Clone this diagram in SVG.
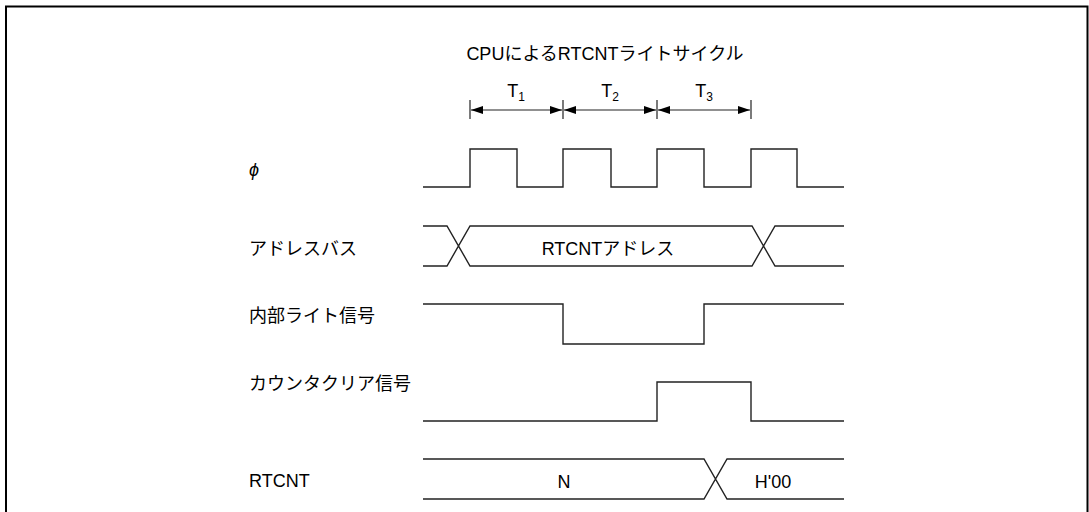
<svg xmlns="http://www.w3.org/2000/svg" width="1089" height="512" viewBox="0 0 1089 512">
<style>
text{font-family:"Liberation Sans","Noto Sans CJK JP",sans-serif;font-size:18px;fill:#000}
.c{text-anchor:middle}
.w{fill:none;stroke:#222;stroke-width:1.4}
.sub{font-size:12px}
</style>
<defs>
<marker id="ah" viewBox="0 0 12 8" refX="12" refY="4" markerWidth="12" markerHeight="8" markerUnits="userSpaceOnUse" orient="auto-start-reverse">
<path d="M0,0 L12,4 L0,8 Z" fill="#000"/>
</marker>
</defs>
<rect x="6" y="6.5" width="1081.5" height="520" fill="#fff" stroke="#000" stroke-width="2"/>
<g id="title"><text class="c" x="605" y="60">CPUによるRTCNTライトサイクル</text></g>
<g id="tlabels">
<text class="c" x="516" y="97">T<tspan class="sub" dy="4">1</tspan></text>
<text class="c" x="610" y="97">T<tspan class="sub" dy="4">2</tspan></text>
<text class="c" x="704" y="97">T<tspan class="sub" dy="4">3</tspan></text>
</g>
<g id="connectors">
<g stroke="#222" stroke-width="1.2">
<line x1="470" y1="100" x2="470" y2="119"/>
<line x1="563" y1="100" x2="563" y2="119"/>
<line x1="657" y1="100" x2="657" y2="119"/>
<line x1="751" y1="100" x2="751" y2="119"/>
<line x1="471" y1="110" x2="562" y2="110" marker-start="url(#ah)" marker-end="url(#ah)"/>
<line x1="564" y1="110" x2="656" y2="110" marker-start="url(#ah)" marker-end="url(#ah)"/>
<line x1="658" y1="110" x2="750" y2="110" marker-start="url(#ah)" marker-end="url(#ah)"/>
</g>
</g>
<g id="phi">
<text x="249" y="176" font-style="italic" font-family="Liberation Sans,sans-serif">ϕ</text>
<path class="w" d="M423,187 H470 V149 H517 V187 H563 V149 H611 V187 H657 V149 H704 V187 H751 V149 H797 V187 H844"/>
</g>
<g id="address-bus">
<text x="249" y="255">アドレスバス</text>
<path class="w" d="M423,226 H447 L470,266 H752 L775,226 H844 M423,266 H447 L470,226 H752 L775,266 H844"/>
<text class="c" x="608" y="255">RTCNTアドレス</text>
</g>
<g id="internal-write">
<text x="249" y="322">内部ライト信号</text>
<path class="w" d="M423,304 H563 V344 H704 V304 H844"/>
</g>
<g id="counter-clear">
<text x="249" y="390">カウンタクリア信号</text>
<path class="w" d="M423,421 H657 V382 H751 V421 H844"/>
</g>
<g id="rtcnt">
<text x="249" y="487">RTCNT</text>
<path class="w" d="M423,459 H704 L727,499 H844 M423,499 H704 L727,459 H844"/>
<text class="c" x="564" y="488">N</text>
<text class="c" x="773" y="488">H'00</text>
</g>
</svg>
